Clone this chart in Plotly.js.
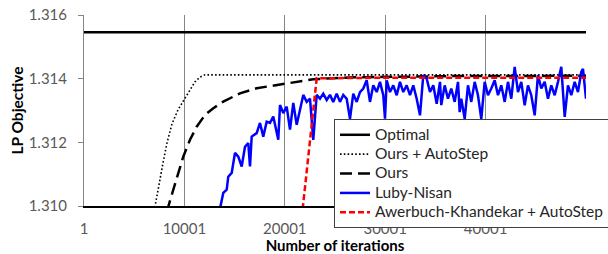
<!DOCTYPE html>
<html><head><meta charset="utf-8">
<script src="https://cdn.plot.ly/plotly-3.0.1.min.js"></script>
<style>html,body{margin:0;padding:0;background:#fff}#chart{width:608px;height:254px}</style>
</head><body><div id="chart"></div>
<script>
// ---- tick labels ----
const xTickVals = [1, 10001, 20001, 30001, 40001];
const xTickText = ['1', '10001', '20001', '30001', '40001'];
const yTickVals = [1.310, 1.312, 1.314, 1.316];
const yTickText = ['1.310', '1.312', '1.314', '1.316'];

// ---- series names ----
const seriesNames = ['Optimal', 'Ours + AutoStep', 'Ours', 'Luby-Nisan', 'Awerbuch-Khandekar + AutoStep'];

// ---- Optimal ----
const optimalIter = [1, 50001];
const optimalVal = [1.31546, 1.31546];

// ---- Ours + AutoStep ----
const oursAutoIter = [6922, 7072, 7470, 7868, 8267, 8765, 9362, 9960, 10558, 11056, 11554, 12052, 20001, 30001, 40001, 50001];
const oursAutoVal = [1.30972, 1.31000, 1.31066, 1.31135, 1.31198, 1.31258, 1.31302, 1.31333, 1.31365, 1.31390, 1.31405, 1.31412, 1.31412, 1.31412, 1.31412, 1.31412];

// ---- Ours ----
const oursIter = [8267, 8396, 8894, 9392, 9890, 10558, 11225, 12052, 12878, 13874, 15538, 17201, 19193, 21185, 22808, 26494, 31474, 36454, 50001];
const oursVal = [1.30981, 1.30998, 1.31051, 1.31103, 1.31155, 1.31208, 1.31249, 1.31286, 1.31307, 1.31328, 1.31354, 1.31370, 1.31380, 1.31391, 1.31398, 1.31404, 1.31407, 1.31408, 1.31409];

// ---- Luby-Nisan ----
const lubyIter = [13200, 13546, 13874, 14213, 14372, 14711, 15040, 15368, 15707, 16036,
  16364, 16534, 16703, 17201, 17530, 17858, 18197, 18526, 18854, 19352,
  19522, 19850, 20189, 20518, 20846, 21185, 21514, 21842, 22181, 22510,
  22838, 23177, 23506, 23834, 24173, 24502, 24830, 25169, 25498, 25826,
  26165, 26494, 26822, 27161, 27490, 27818, 28157, 28486, 28814, 29153,
  29482, 29810, 29980, 30149, 30478, 30806, 31145, 31474, 31802, 32141,
  32470, 32798, 33137, 33466, 33794, 34133, 34462, 34790, 35129, 35458,
  35587, 35926, 36254, 36583, 36922, 37250, 37420, 37579, 37918, 38246,
  38575, 38914, 39242, 39571, 39910, 40238, 40567, 40906, 41234, 41563,
  41902, 42230, 42559, 42898, 43226, 43555, 43894, 44222, 44551, 44890,
  45218, 45547, 45886, 46214, 46543, 46882, 47210, 47539, 47878, 48206,
  48535, 48874, 49202, 49531, 49700, 50001];
const lubyVal = [1.3094, 1.30998, 1.31041, 1.31051, 1.31092, 1.31104, 1.31167, 1.31155, 1.31124, 1.31186,
  1.31198, 1.31124, 1.31218, 1.31229, 1.31261, 1.31218, 1.31265, 1.31261, 1.31281, 1.31208,
  1.31317, 1.31292, 1.31312, 1.31240, 1.31324, 1.31255, 1.31302, 1.31349, 1.31327, 1.31337,
  1.31208, 1.31349, 1.31337, 1.31353, 1.31333, 1.31349, 1.31327, 1.31353, 1.31327, 1.31349,
  1.31337, 1.31274, 1.31353, 1.31327, 1.31358, 1.31369, 1.31395, 1.31327, 1.31379, 1.31358,
  1.31390, 1.31348, 1.31274, 1.31395, 1.31358, 1.31379, 1.31348, 1.31390, 1.31358, 1.31379,
  1.31348, 1.31379, 1.31337, 1.31285, 1.31411, 1.31400, 1.31358, 1.31379, 1.31321, 1.31390,
  1.31317, 1.31379, 1.31337, 1.31369, 1.31327, 1.31390, 1.31295, 1.31337, 1.31274, 1.31379,
  1.31327, 1.31390, 1.31348, 1.31274, 1.31390, 1.31348, 1.31369, 1.31395, 1.31348, 1.31379,
  1.31327, 1.31390, 1.31337, 1.31437, 1.31358, 1.31390, 1.31316, 1.31379, 1.31348, 1.31285,
  1.31411, 1.31369, 1.31390, 1.31337, 1.31379, 1.31348, 1.31390, 1.31437, 1.31280, 1.31379,
  1.31348, 1.31390, 1.31358, 1.31421, 1.31431, 1.31337];

// ---- Awerbuch-Khandekar + AutoStep ----
const akIter = [21613, 21812, 23177, 30001, 40001, 50001];
const akVal = [1.30934, 1.31000, 1.31401, 1.31403, 1.31403, 1.31403];

const FONT = 'Lato, "Open Sans", sans-serif';
const legName = n => '<span style="font-size:15.5px">' + n + '</span>';

const traces = [
  {x: optimalIter, y: optimalVal, name: legName(seriesNames[0]), mode: 'lines',
   line: {color: '#000000', width: 2.5}},
  {x: oursAutoIter, y: oursAutoVal, name: legName(seriesNames[1]), mode: 'lines',
   line: {color: '#000000', width: 1.6, dash: '1.6px,2.2px'}},
  {x: oursIter, y: oursVal, name: legName(seriesNames[2]), mode: 'lines',
   line: {color: '#000000', width: 2.5, dash: '12px,6px'}},
  {x: lubyIter, y: lubyVal, name: legName(seriesNames[3]), mode: 'lines',
   line: {color: '#0000ff', width: 2.5}},
  {x: akIter, y: akVal, name: legName(seriesNames[4]), mode: 'lines',
   line: {color: '#ff0000', width: 2.5, dash: '6px,3px'}}
];

const layout = {
  width: 608, height: 254,
  margin: {l: 84, r: 22, t: 15, b: 48, pad: 0, autoexpand: false},
  paper_bgcolor: '#ffffff', plot_bgcolor: '#ffffff',
  font: {family: FONT, color: '#595959'},
  showlegend: true,
  legend: {
    x: 0.498, xanchor: 'left', y: 0.455, yanchor: 'top',
    bgcolor: '#ffffff', bordercolor: '#404040', borderwidth: 1,
    font: {family: FONT, size: 12.6, color: '#262626'},
    tracegroupgap: 0
  },
  xaxis: {
    type: 'linear', range: [1, 50001], fixedrange: true,
    tickmode: 'array', tickvals: xTickVals, ticktext: xTickText,
    ticks: '', showgrid: true, gridcolor: '#868686', gridwidth: 1,
    zeroline: false, showline: true, linecolor: '#000000', linewidth: 1.5,
    tickfont: {family: FONT, size: 15, color: '#595959'},
    ticklabelstandoff: 8,
    title: {text: '<b>Number of iterations</b>', font: {family: FONT, size: 15, color: '#000000'}, standoff: 6}
  },
  yaxis: {
    type: 'linear', range: [1.310, 1.316], fixedrange: true,
    tickmode: 'array', tickvals: yTickVals, ticktext: yTickText,
    ticks: 'outside', ticklen: 5, tickcolor: '#868686', tickwidth: 1,
    showgrid: false, zeroline: false, showline: true, linecolor: '#868686', linewidth: 1,
    tickfont: {family: FONT, size: 15, color: '#595959'},
    ticklabelstandoff: 8,
    title: {text: '<b>LP Objective</b>', font: {family: FONT, size: 15.5, color: '#000000'}, standoff: 1}
  }
};

Plotly.newPlot('chart', traces, layout, {displayModeBar: false, staticPlot: true});
</script>
</body></html>
